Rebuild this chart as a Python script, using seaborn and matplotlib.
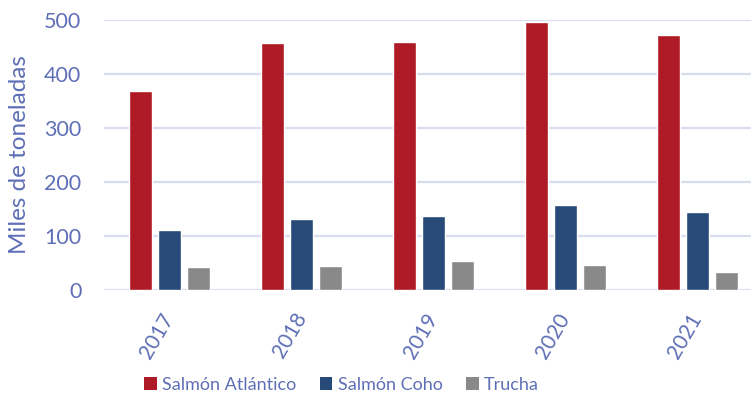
import matplotlib
matplotlib.use("Agg")
import matplotlib.pyplot as plt
import seaborn as sns
import pandas as pd
from matplotlib.patches import Patch

years = ["2017", "2018", "2019", "2020", "2021"]
series_names = ["Salmón Atlántico", "Salmón Coho", "Trucha"]
atlantico = [368, 456, 458, 495, 472]
coho = [110, 130, 136, 157, 143]
trucha = [42, 44, 52, 46, 32]
y_ticks = [0, 100, 200, 300, 400, 500]
y_label = "Miles de toneladas"

colors = ["#AE1A25", "#284A78", "#898989"]
text_color = "#5F6FB6"
grid_color = "#DADDF0"

rows = []
for name, vals in zip(series_names, [atlantico, coho, trucha]):
    for y, v in zip(years, vals):
        rows.append({"Año": y, "Serie": name, "Valor": v})
df = pd.DataFrame(rows)

sns.set_theme(style="white")
plt.rcParams["font.family"] = ["Lato", "DejaVu Sans"]

fig = plt.figure(figsize=(7.51, 3.99), dpi=100)
ax = fig.add_axes([103.5 / 751, (399 - 289.5) / 399, 660 / 751, 270 / 399])

sns.barplot(data=df, x="Año", y="Valor", hue="Serie", order=years,
            hue_order=series_names, palette=colors, width=0.66, gap=0.2,
            saturation=1, ax=ax, legend=False, zorder=3)

ax.set_xlim(-0.5, 4.5)
ax.set_ylim(0, 500)
ax.set_yticks(y_ticks)
ax.set_yticklabels([str(t) for t in y_ticks], fontsize=15.5, color=text_color)
ax.yaxis.grid(True, color=grid_color, linewidth=1.6, zorder=0)
ax.set_axisbelow(True)
for s in ax.spines.values():
    s.set_visible(False)
ax.tick_params(axis="y", length=0, pad=16)
ax.tick_params(axis="x", length=0, pad=18)
ax.set_xlabel("")
ax.set_ylabel(y_label, fontsize=17.5, color=text_color, labelpad=10)
for lbl in ax.get_xticklabels():
    lbl.set_rotation(60)
    lbl.set_ha("right")
    lbl.set_va("center")
    lbl.set_rotation_mode("anchor")
    lbl.set_fontsize(15)
    lbl.set_color(text_color)

handles = [Patch(facecolor=c, edgecolor="none") for c in colors]
leg = fig.legend(handles, series_names, loc="center", bbox_to_anchor=(341.5 / 751, 1 - 385 / 399),
                 ncol=3, frameon=False, fontsize=13, handlelength=0.7, handleheight=0.7,
                 handletextpad=0.3, columnspacing=1.3)
for t in leg.get_texts():
    t.set_color(text_color)

fig.savefig("out.png", dpi=100)
